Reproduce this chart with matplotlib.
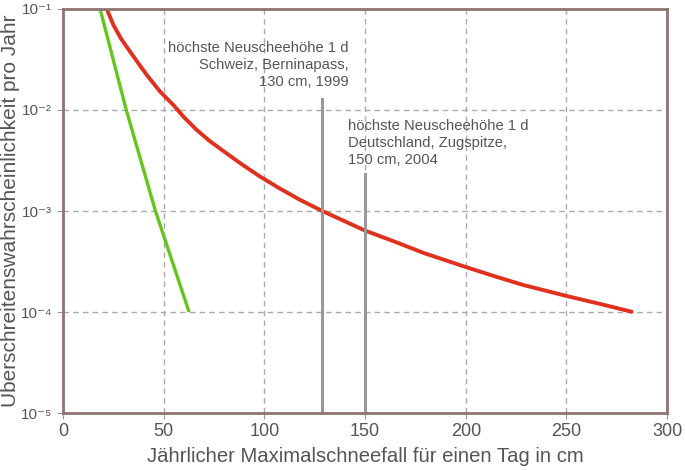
import numpy as np
from matplotlib import pyplot as plt

plt.rcParams['font.family'] = ['Liberation Sans', 'DejaVu Sans']

# red curve
red_x = [21.7, 25.0, 29.0, 33.3, 37.5, 41.6, 48.2, 54.8, 60.0, 66.4, 73.0, 81.3, 89.0,
         97.9, 107.0, 117.7, 128.8, 150.0, 165.0, 179.0, 200.5, 215.0, 228.7, 250.2, 267.0, 283.0]
red_y = [1e-1, 6.95e-2, 5.0e-2, 3.78e-2, 2.88e-2, 2.22e-2, 1.52e-2, 1.12e-2, 8.5e-3, 6.34e-3,
         4.9e-3, 3.71e-3, 2.88e-3, 2.19e-3, 1.7e-3, 1.29e-3, 1.0e-3, 6.4e-4, 4.95e-4, 3.85e-4,
         2.77e-4, 2.24e-4, 1.85e-4, 1.44e-4, 1.2e-4, 1.0e-4]

# green curve
green_x = [18.4, 31.4, 45.9, 62.6]
green_y = [1e-1, 1e-2, 1e-3, 1e-4]

# record lines: x position and top value
rec_x = [128.8, 150.0]
rec_top = [1.28e-2, 2.32e-3]

ytick_vals = [1e-5, 1e-4, 1e-3, 1e-2, 1e-1]
ytick_labels = ['10⁻⁵', '10⁻⁴', '10⁻³', '10⁻²', '10⁻¹']

txt_col = '#555555'
spine_col = '#8c7470'

fig = plt.figure(figsize=(685/100, 470/100), dpi=100)
ax = fig.add_axes([0.092, 0.121, 0.882, 0.860])

ax.plot(green_x, green_y, color='#66c41e', lw=2.4, solid_capstyle='butt')
ax.plot(red_x, red_y, color='#e0301e', lw=2.8, solid_capstyle='butt')
for xv, tv in zip(rec_x, rec_top):
    ax.plot([xv, xv], [1e-5, tv], color='#999999', lw=2.2)

ax.set_yscale('log')
ax.set_xlim(0, 300)
ax.set_ylim(1e-5, 1e-1)
ax.set_xticks([0, 50, 100, 150, 200, 250, 300])
ax.set_yticks(ytick_vals)
ax.set_yticklabels(ytick_labels)
ax.minorticks_off()
ax.grid(True, linestyle=(0, (4, 3)), color='#aaaaaa', lw=1)
ax.set_axisbelow(True)
for s in ax.spines.values():
    s.set_color(spine_col)
    s.set_linewidth(2)
ax.tick_params(colors='#999999', labelcolor=txt_col, length=4)
ax.tick_params(axis='x', labelsize=13, pad=3)
ax.tick_params(axis='y', labelsize=11, pad=4)

ax.set_xlabel('Jährlicher Maximalschneefall für einen Tag in cm', color=txt_col, fontsize=14.6)
ax.set_ylabel('Überschreitenswahrscheinlichkeit pro Jahr', color=txt_col, fontsize=15)
ax.yaxis.set_label_coords(-0.071, 0.5)
ax.xaxis.set_label_coords(0.5, -0.085)

ax.text(142, 4.8e-2, 'höchste Neuscheehöhe 1 d\nSchweiz, Berninapass,\n130 cm, 1999',
        ha='right', va='top', color=txt_col, fontsize=10.6, linespacing=1.25)
ax.text(141.6, 8.1e-3, 'höchste Neuscheehöhe 1 d\nDeutschland, Zugspitze,\n150 cm, 2004',
        ha='left', va='top', color=txt_col, fontsize=10.6, linespacing=1.25)

fig.savefig('out.png', dpi=100)
